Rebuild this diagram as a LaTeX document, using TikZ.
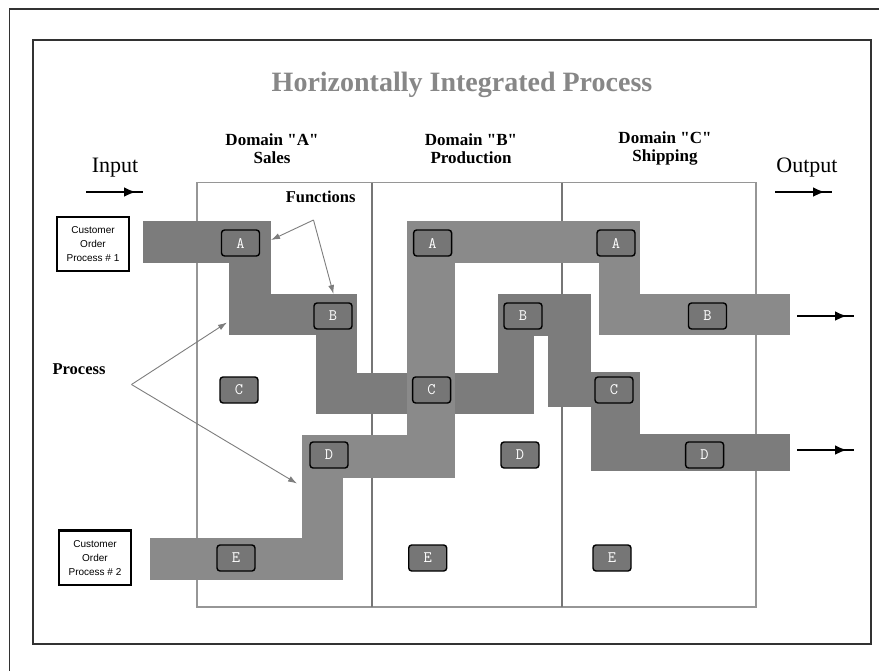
\documentclass[tikz,border=0pt]{standalone}
\usepackage{fontspec}
\setmainfont{Liberation Serif}
\newfontfamily\sansfnt{Liberation Sans}
\usetikzlibrary{arrows.meta}

\definecolor{pathdark}{RGB}{124,124,124}
\definecolor{pathlight}{RGB}{138,138,138}
\definecolor{boxfill}{RGB}{118,118,118}
\definecolor{titlegray}{RGB}{135,135,135}
\definecolor{framegray}{RGB}{50,50,50}
\definecolor{domline}{RGB}{150,150,150}
\definecolor{divline}{RGB}{118,118,118}
\definecolor{pointer}{RGB}{125,125,125}

\begin{document}
\begin{tikzpicture}[x=1pt,y=-1pt,
  fbox/.style={draw=black, line width=1.4pt, rounded corners=3pt, fill=boxfill,
    minimum width=38pt, minimum height=26pt, inner sep=0pt, text=white,
    font=\ttfamily\fontsize{16}{16}\selectfont},
  custbox/.style={draw=black, line width=1.3pt, fill=white, minimum width=72pt,
    minimum height=54pt, inner sep=0pt, align=center,
    font=\sansfnt\fontsize{10}{14}\selectfont},
  domlabel/.style={align=center, font=\bfseries\fontsize{17}{17.5}\selectfont},
  boldlabel/.style={font=\bfseries\fontsize{16.5}{18}\selectfont},
  iolabel/.style={font=\fontsize{22}{22}\selectfont},
  ptr/.style={draw=pointer, line width=0.9pt, -{Latex[length=9pt,width=6pt]}},
  ioline/.style={draw=black, line width=2.4pt, -{Latex[length=12pt,width=10pt]}},
  stub/.style={draw=black, line width=1.5pt},
  band1/.style={fill=pathdark},
  band2/.style={fill=pathlight}]

\useasboundingbox (0,0) rectangle (879,670);
\clip (0,0) rectangle (879,670);

% frames
\draw[framegray, line width=1.5pt] (9.5,700) -- (9.5,9) -- (900,9);
\draw[framegray, line width=1.5pt] (33,40) rectangle (871,644);

% domain columns
\draw[domline, line width=1.2pt] (197,182.5) rectangle (756,607);
\draw[divline, line width=1.8pt] (371.6,182.5) -- (371.6,607);
\draw[divline, line width=1.8pt] (561.7,182.5) -- (561.7,607);

% process 1 band
\fill[band1] (143,220.5) rectangle (271,263);
\fill[band1] (229,220.5) rectangle (271,335);
\fill[band1] (229,294) rectangle (357,335);
\fill[band1] (315.6,294) rectangle (357,414);
\fill[band1] (315.6,372.5) rectangle (534,414);
\fill[band1] (498.3,294) rectangle (534,414);
\fill[band1] (498.3,294) rectangle (590.7,336);
\fill[band1] (547.7,294) rectangle (590.7,407);
\fill[band1] (547.7,372.3) rectangle (640,407);
\fill[band1] (591,372.3) rectangle (640,471);
\fill[band1] (591,434) rectangle (790,471);

% process 2 band
\fill[band2] (150,537.6) rectangle (343,580);
\fill[band2] (301.6,435) rectangle (343,580);
\fill[band2] (301.6,435) rectangle (455,478);
\fill[band2] (407,220.5) rectangle (455,478);
\fill[band2] (407,220.5) rectangle (640,263);
\fill[band2] (599,220.5) rectangle (640,335);
\fill[band2] (599,294) rectangle (790,335);

% title and headings
\node[text=titlegray, font=\bfseries\fontsize{28}{28}\selectfont] (title) at (462,85) {Horizontally Integrated Process};
\node[domlabel] (domA) at (272,148.5) {Domain \textquotedbl A\textquotedbl\\Sales};
\node[domlabel] (domB) at (471,148.5) {Domain \textquotedbl B\textquotedbl\\Production};
\node[domlabel] (domC) at (665,148.5) {Domain \textquotedbl C\textquotedbl\\Shipping};
\node[iolabel] (input) at (115,168) {Input};
\node[iolabel] (output) at (807,168) {Output};
\node[boldlabel] (functions) at (320.6,197) {Functions};
\node[boldlabel] (process) at (79,369) {Process};

% customer orders
\node[custbox] (cust1) at (93,244) {Customer\\Order\\Process \# 1};
\node[custbox] (cust2) at (95,558) {Customer\\Order\\Process \# 2};
\draw[black, line width=2.4pt] (cust2.north west) -- (cust2.north east);

% function boxes, domain A
\node[fbox] (aA) at (240.5,243) {A};
\node[fbox] (aB) at (333,316) {B};
\node[fbox] (aC) at (239,390) {C};
\node[fbox] (aD) at (329,455) {D};
\node[fbox] (aE) at (236,558) {E};
% domain B
\node[fbox] (bA) at (432.6,243) {A};
\node[fbox] (bB) at (523,316) {B};
\node[fbox] (bC) at (431.6,390) {C};
\node[fbox] (bD) at (520,455) {D};
\node[fbox] (bE) at (427.7,558) {E};
% domain C
\node[fbox] (cA) at (616,243) {A};
\node[fbox] (cB) at (707.5,316) {B};
\node[fbox] (cC) at (614,390) {C};
\node[fbox] (cD) at (704.6,455) {D};
\node[fbox] (cE) at (612,558) {E};

% pointers from the labels
\coordinate (fapex) at (313.5,220);
\coordinate (ftipA) at (271,240);
\coordinate (ftipB) at (333.5,294);
\draw[ptr] (fapex) -- (ftipA);
\draw[ptr] (fapex) -- (ftipB);
\coordinate (papex) at (131.5,384.5);
\coordinate (ptip1) at (227,322.5);
\coordinate (ptip2) at (297,483.5);
\draw[ptr] (papex) -- (ptip1);
\draw[ptr] (papex) -- (ptip2);

% input / output arrows
\coordinate (inL) at (86,192);  \coordinate (inH) at (136,192);  \coordinate (inR) at (143,192);
\coordinate (outL) at (775,192); \coordinate (outH) at (825,192); \coordinate (outR) at (832,192);
\coordinate (o1L) at (797,316); \coordinate (o1H) at (847,316); \coordinate (o1R) at (854,316);
\coordinate (o2L) at (797,450); \coordinate (o2H) at (847,450); \coordinate (o2R) at (854,450);
\foreach \p in {in,out,o1,o2}{
  \draw[stub] ([xshift=-4pt]\p H) -- (\p R);
  \draw[ioline] (\p L) -- (\p H);
}
\end{tikzpicture}
\end{document}
